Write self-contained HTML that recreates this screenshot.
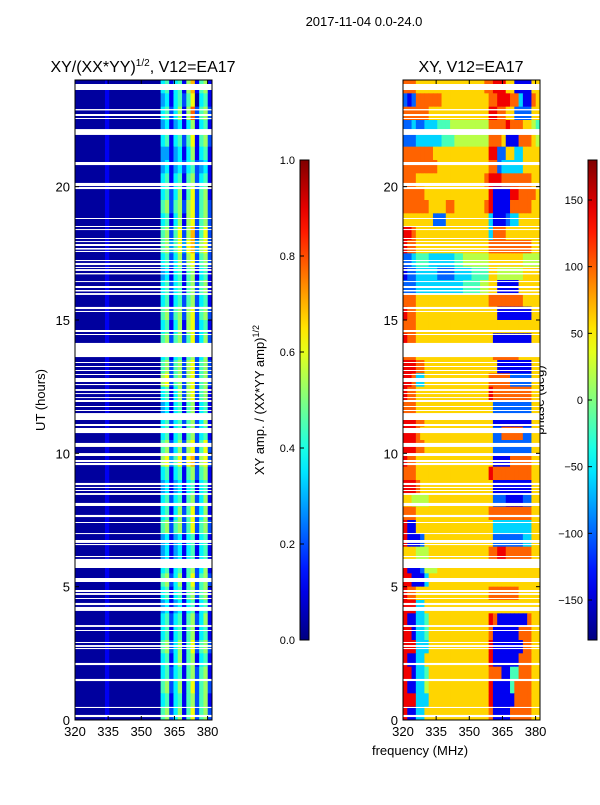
<!DOCTYPE html>
<html><head><meta charset="utf-8"><style>
body{margin:0;background:#fff;}
svg text{font-family:"Liberation Sans",sans-serif;fill:#000;}
</style></head><body>
<svg id="c" width="600" height="800" xmlns="http://www.w3.org/2000/svg">
<rect width="600" height="800" fill="#fff"/>
<text x="364" y="26" font-size="13" text-anchor="middle">2017-11-04 0.0-24.0</text>
<text x="143" y="72" font-size="16" text-anchor="middle">XY/(XX*YY)<tspan font-size="10" dy="-6">1/2</tspan><tspan dy="6">, V12=EA17</tspan></text>
<text x="471" y="72" font-size="16" text-anchor="middle">XY, V12=EA17</text>
<text transform="translate(45,400) rotate(-90)" font-size="13" text-anchor="middle">UT (hours)</text>
<text transform="translate(264,400) rotate(-90)" font-size="13" text-anchor="middle">XY amp. / (XX*YY amp)<tspan font-size="9" dy="-5">1/2</tspan></text>
<text transform="translate(544,400) rotate(-90)" font-size="13" text-anchor="middle">phase (deg)</text>
<text x="420" y="755" font-size="13" text-anchor="middle">frequency (MHz)</text>
<g id="g"></g>
</svg>
<script>
const hours=[0,5,10,15,20];
const freqTicks=[320,335,350,365,380];
const ampTicks=[0.0,0.2,0.4,0.6,0.8,1.0];
const phaseTicks=[-150,-100,-50,0,50,100,150];
const ampRows=[
"00000001000000000000451451681561","00000001000000000000341452570451","00000001000000000000452461692562","00000001000000000000341341461451",
"00000001000000000000451452571562","00000001000000000000331341461451","00000001000000000000341342452341","00000001000000000000451451562451",
"00000001000000000000452461572561","00000001000000000000562562672562","00000001000000000000451461672562","00000001000000000000562572682572",
"00000001000000000000563573783672","00000001000000000000452462672562","00000001000000000000341451561451","00000001000000000000452451562561",
"00000001000000000000451452562451","00000001000000000000562562672562","00000001000000000000451461672451","00000001000000000000562562572462",
"00000001000000000000451451562461","00000001000000000000562562672562","00000001000000000000672562672562","00000001000000000000451462672561",
"00000001000000000000341451561451","00000001000000000000452452562461","00000001000000000000451451562451","00000001000000000000562462672572",
"00000001000000000000673572782672","00000001000000000000451451562561","00000001000000000000341341451451","00000001000000000000452451562461",
"00000001000000000000451462572461","00000001000000000000562562572562","00000001000000000000341341451451","00000001000000000000341341451451",
"00000001000000000000451451562461","00000001000000000000562461572562","00000001000000000000451451562561","00000001000000000000341341451451",
"00000001000000000000452451562461","00000001000000000000451451561451","00000001000000000000562461572562","00000001000000000000451461561451",
"00000001000000000000452451562561","00000001000000000000562461572562","00000001000000000000451451562561","00000001000000000000562461572562"];
const phaseRows=[
"77766666666666666667788866111166","21277777766666666666778887731176","77777766666666666666887766222266","22322333444555555555777787776654",
"22233333344455555555777611177765","77777776666666666666882266336666","77777777666666666666772333336666","77766666666666666667888777777766",
"77777666666666666666811118877776","77777766667766666667811117777766","66666662226666666666311123366666","88766666666666666666377766666666",
"87766666666666666666777777777766","22344433333344555555666666665555","12233333222233334444665555556666","22233333333333444455661111166666",
"77766666666666666666777777776666","87766666666666666666661111111166","77766666666666666666666666666666","87766666666666666666611111111166",
"77766666666666666666677777766666","88877666666666666666661111111166","88733666666666666666777772222266","87766666666666666666877777777766",
"77766666666666666666622222222266","88877666666666666666611111111166","88876666666666666666622777772266","88877666666666666666622222222266",
"87766666666666666666611117777766","77766666666666666666877777777766","88876666666666666666611111111166","66555566666666666666622211112266",
"77766666666666666666777777777766","81166666666666666666633333333366","81112666666666666666622222223366","66655566666666666666778877777766",
"81112555666666666666666666666666","88111366666666666666666666666666","87766666666666666666777777766666","88833666666666666666666666666666",
"81133466666666666666871111111766","88133466666666666666711111177766","88833366666666666666811111117766","81133666666666666666811111177766",
"88133466666666666666777114477766","81133566666666666666811114777766","88833366666666666666811111777766","81133666666666666666711117777766"];
const flagStart=[23.85,22.91,22.725,22.575,22.16,20.925,20.14,19.99,18.825,18.525,18.41,18.075,17.96,17.85,17.7,17.59,17.25,17.14,16.99,16.91,16.76,16.46,16.275,16.125,16.01,15.49,15.34,14.625,14.475,14.14,13.425,13.275,13.125,12.975,12.825,12.6,12.41,12.26,12.11,12.0,11.775,11.625,11.51,11.1,10.95,10.39,10.01,9.75,9.64,8.89,8.74,8.625,8.51,8.14,7.69,7.425,7.01,6.75,6.6,6.15,6.04,5.325,4.875,4.76,4.575,4.39,4.24,3.56,3.375,2.925,2.81,2.7,2.14,1.54,0.49,0.19];
const flagEnd=[23.625,22.86,22.65,22.54,21.94,20.81,20.025,19.91,18.79,18.49,18.375,18.04,17.925,17.775,17.64,17.55,17.21,17.06,16.95,16.84,16.71,16.425,16.2,16.07,15.94,15.41,15.3,14.55,14.44,13.61,13.39,13.24,13.09,12.94,12.675,12.56,12.34,12.225,12.075,11.925,11.74,11.59,11.25,11.025,10.76,10.24,9.9,9.675,9.56,8.81,8.7,8.59,8.44,8.025,7.61,7.39,6.975,6.64,6.56,6.11,5.7,5.175,4.8,4.69,4.54,4.31,4.09,3.49,3.34,2.89,2.74,2.66,2.06,1.46,0.45,0.11];

const NS="http://www.w3.org/2000/svg",G=document.getElementById('g');
function mk(t,a,p){const e=document.createElementNS(NS,t);for(const k in a)e.setAttribute(k,a[k]);(p||G).appendChild(e);return e;}
function jet(v){v=Math.max(0,Math.min(1,v));const f=x=>Math.round(255*Math.max(0,Math.min(1,x)));
 return `rgb(${f(1.5-Math.abs(4*v-3))},${f(1.5-Math.abs(4*v-2))},${f(1.5-Math.abs(4*v-1))})`;}
const F0=320,F1=382,T0=0,T1=24,PT=80,PB=720;
const yS=h=>PB-(h-T0)/(T1-T0)*(PB-PT);
function panel(x0,x1,rows,valFn,name){
 const xS=f=>x0+(f-F0)/(F1-F0)*(x1-x0);
 const nr=rows.length,nc=rows[0].length,df=(F1-F0)/nc,dh=(T1-T0)/nr;
 const gp=mk('g',{});
 
 
 rows.forEach((r,i)=>{const hTop=T1-i*dh;
  for(let j=0;j<nc;j++){const fa=F0+j*df;
   const c=mk('rect',{x:xS(fa),y:yS(hTop),width:xS(fa+df)-xS(fa)+0.5,height:yS(hTop-dh)-yS(hTop)+0.5,fill:jet(valFn(+r[j]))},gp);
   
   }});
 flagStart.forEach((s,k)=>{const e=flagEnd[k];
  const w=mk('rect',{x:x0,y:yS(s),width:x1-x0,height:Math.max(1,yS(e)-yS(s)),fill:'#fff'},gp);
  
  });
 const fr=mk('rect',{x:x0,y:PT,width:x1-x0,height:PB-PT,fill:'none',stroke:'#000','stroke-width':1});
 
 
 freqTicks.forEach(f=>{const x=xS(f);
  mk('line',{x1:x,x2:x,y1:PB,y2:PB-4,stroke:'#000'});mk('line',{x1:x,x2:x,y1:PT,y2:PT+4,stroke:'#000'});
  const t=mk('text',{x:x,y:PB+16,'font-size':13,'text-anchor':'middle'});t.textContent=f;
  
  });
 hours.forEach(h=>{const y=yS(h);
  mk('line',{x1:x0,x2:x0+4,y1:y,y2:y,stroke:'#000'});mk('line',{x1:x1,x2:x1-4,y1:y,y2:y,stroke:'#000'});
  const t=mk('text',{x:x0-5,y:y+5,'font-size':13,'text-anchor':'end'});t.textContent=h;
  
  });
}
panel(75,212,ampRows,d=>d/12+0.03,'amplitude');
panel(403,540,phaseRows,d=>(d*40)/360,'phase');
function cbar(x,lo,hi,ticks,name,fmt){
 const top=160,bot=640,id='gr'+name;
 const defs=mk('defs',{});const lg=mk('linearGradient',{id:id,x1:0,y1:1,x2:0,y2:0},defs);
 for(let k=0;k<=20;k++)mk('stop',{offset:k/20,'stop-color':jet(k/20)},lg);
 const r=mk('rect',{x:x,y:top,width:9,height:bot-top,fill:`url(#${id})`,stroke:'#000','stroke-width':1});
 
 
 ticks.forEach(v=>{const y=bot-(v-lo)/(hi-lo)*(bot-top);
  mk('line',{x1:x,x2:x+4,y1:y,y2:y,stroke:'#000'});
  const t=mk('text',{x:x-5,y:y+4,'font-size':11,'text-anchor':'end'});t.textContent=fmt(v);
  
  });
}
cbar(300,0,1,ampTicks,'amp',v=>v.toFixed(1));
cbar(588,-180,180,phaseTicks,'phase',v=>v<0?'\u2212'+(-v):String(v));
</script>
</body></html>
